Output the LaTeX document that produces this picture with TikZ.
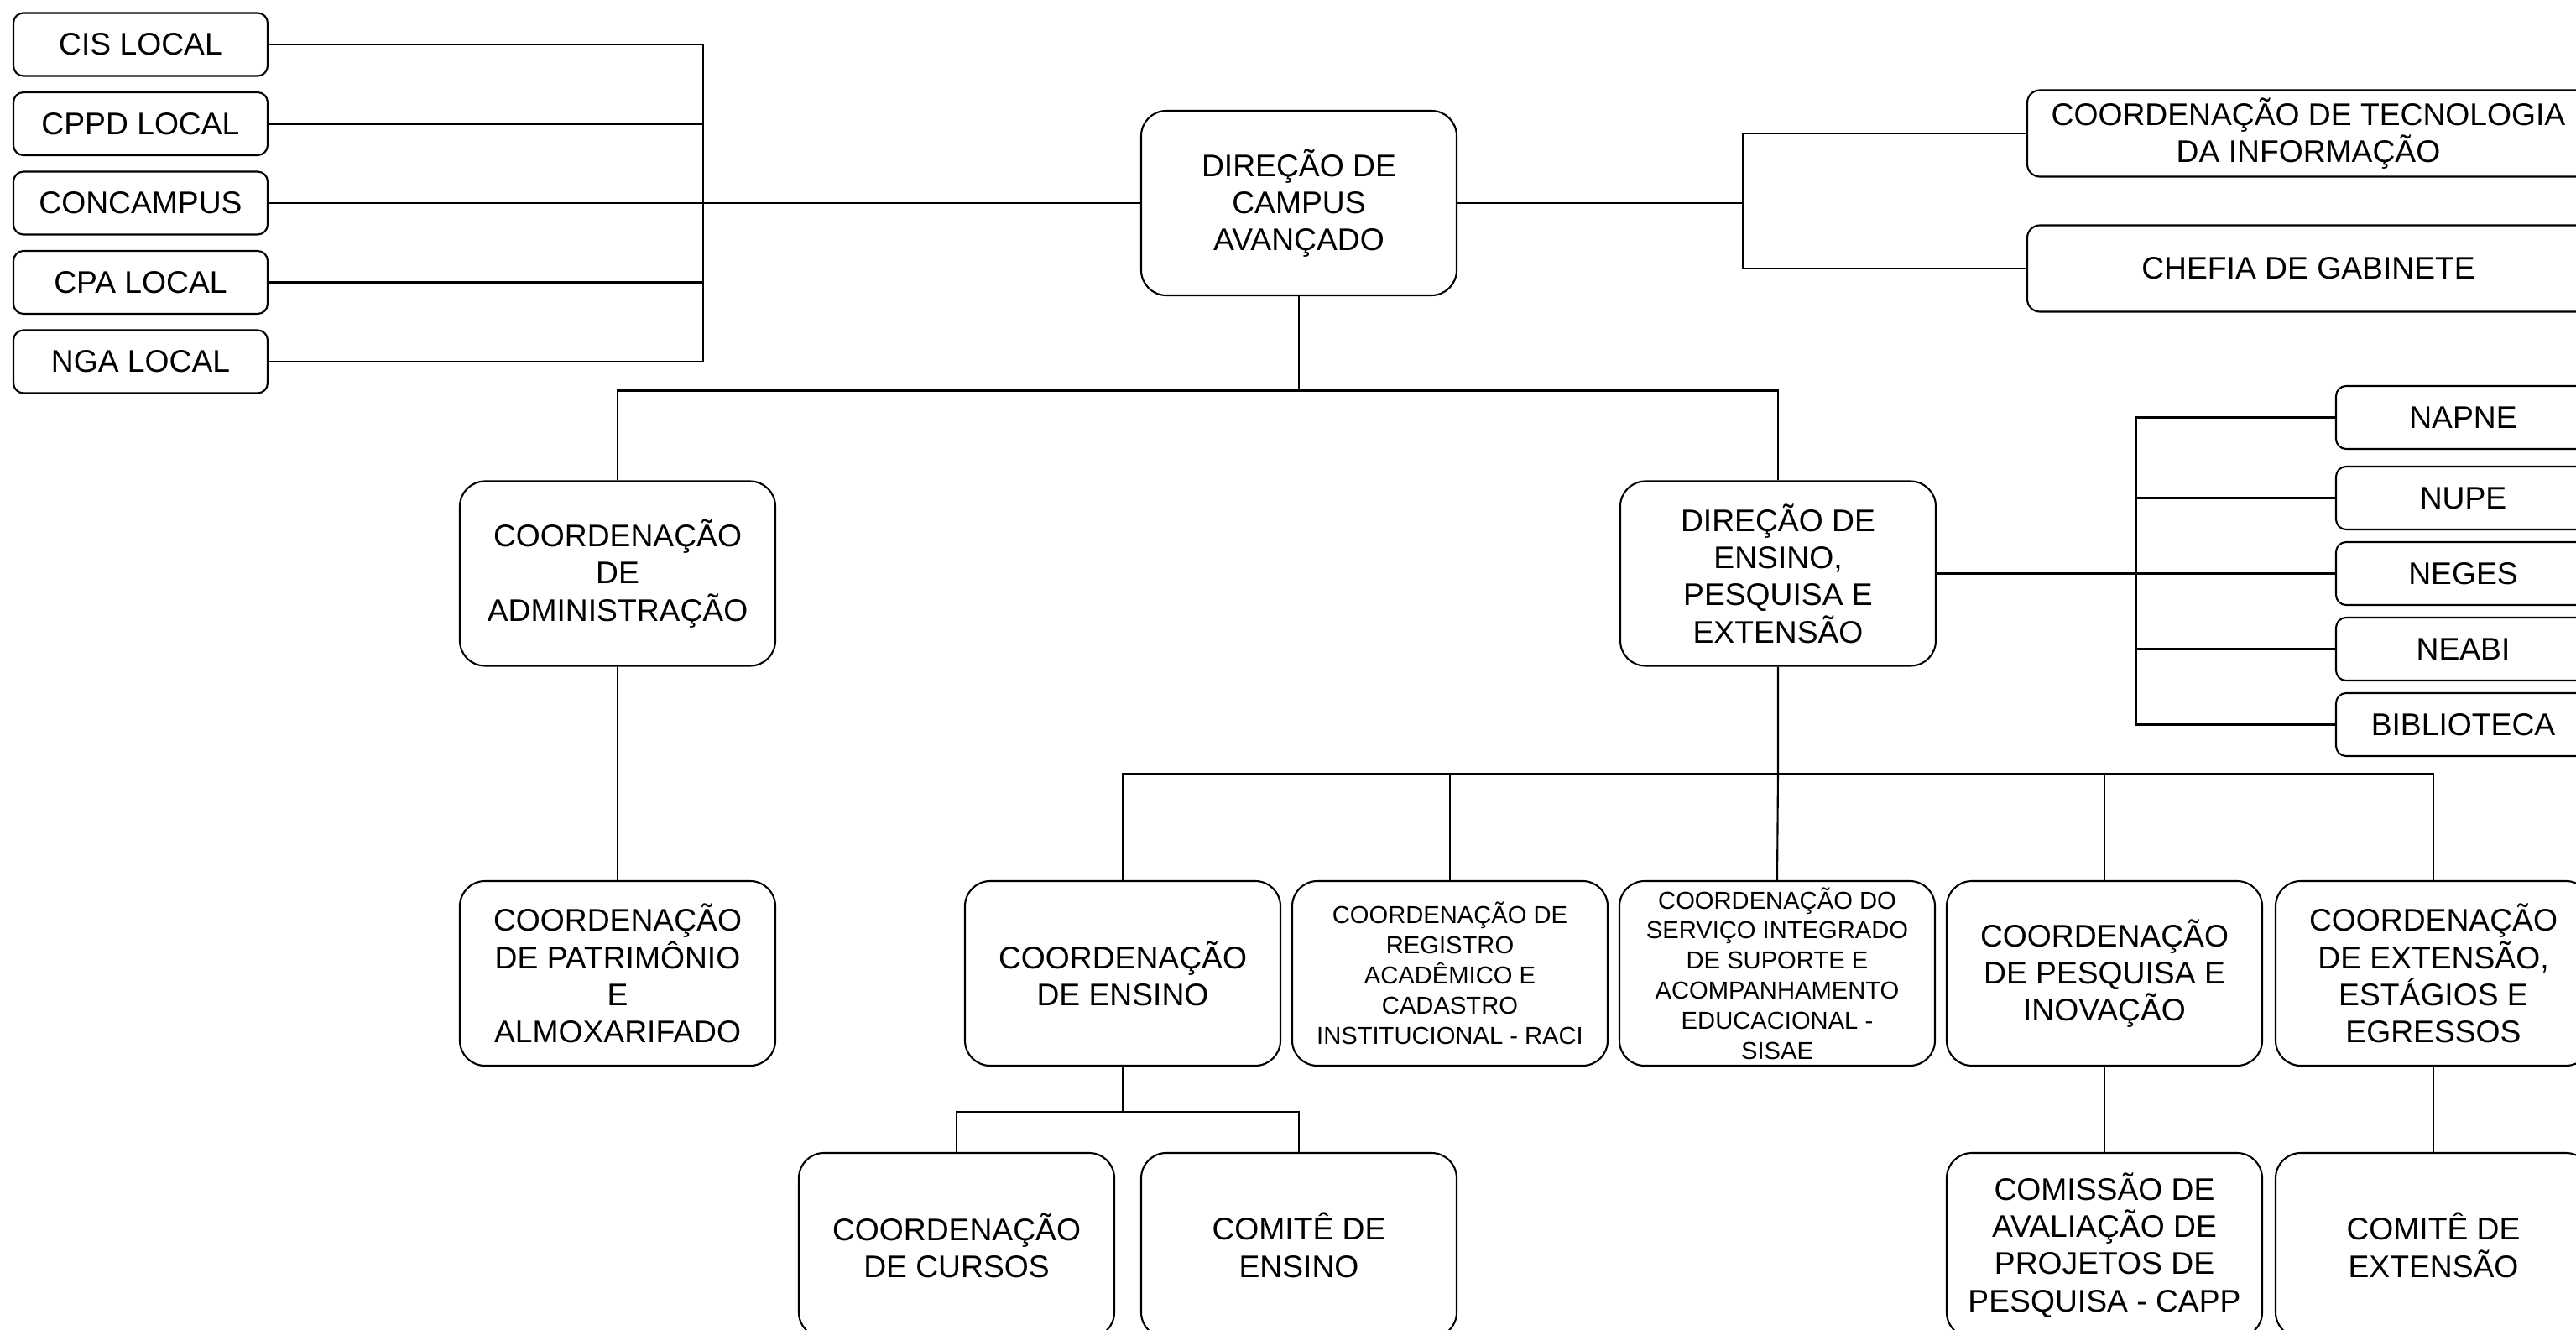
\documentclass[tikz,border=0pt]{standalone}
\usepackage{fontspec}
\setmainfont{Liberation Sans}
\usepackage{tikz}
\usetikzlibrary{positioning}
\tikzset{every node/.style={inner sep=0pt, align=center},
bigbox/.style={draw, line width=0.6pt, rounded corners=3mm, fill=white,
  minimum width=3.76cm, minimum height=2.2cm, font=\fontsize{10.6}{12.6}\selectfont},
smallbox/.style={draw, line width=0.6pt, rounded corners=1.2mm, fill=white,
  minimum width=3.03cm, minimum height=0.75cm, font=\fontsize{10.6}{12.6}\selectfont},
widebox/.style={draw, line width=0.6pt, rounded corners=1.5mm, fill=white,
  minimum width=6.7cm, minimum height=1.03cm, font=\fontsize{10.6}{12.6}\selectfont},
tinytext/.style={font=\fontsize{8.3}{10.2}\selectfont},
link/.style={draw, line width=0.6pt}
}

\begin{document}
\begin{tikzpicture}[node distance=1cm, on grid]
          \useasboundingbox (0,0) rectangle (30.7,-15.85);
          \clip (0,0) rectangle (30.7,-15.85);
          \fill[white] (0,0) rectangle (30.7,-15.85);

          % conselhos e comissoes locais
          \node[smallbox] (cis)       at (1.675,-0.53)       {CIS LOCAL};
          \node[smallbox] (cppd)      [below=0.945 of cis]   {CPPD LOCAL};
          \node[smallbox] (concampus) [below=0.945 of cppd]  {CONCAMPUS};
          \node[smallbox] (cpa)       [below=0.945 of concampus] {CPA LOCAL};
          \node[smallbox] (nga)       [below=0.945 of cpa]   {NGA LOCAL};

          \node[bigbox] (dirCampus) at (15.48,-2.42) {DIREÇÃO DE\\CAMPUS\\AVANÇADO};

          \node[widebox] (ti)     at (27.51,-1.59) {COORDENAÇÃO DE TECNOLOGIA\\DA INFORMAÇÃO};
          \node[widebox] (chefia) at (27.51,-3.20) {CHEFIA DE GABINETE};

          \node[bigbox] (coordAdm)  at (7.36,-6.835)  {COORDENAÇÃO\\DE\\ADMINISTRAÇÃO};
          \node[bigbox] (dirEnsino) at (21.19,-6.835) {DIREÇÃO DE\\ENSINO,\\PESQUISA E\\EXTENSÃO};

          % nucleos
          \node[smallbox] (neges)      at (29.355,-6.835)       {NEGES};
          \node[smallbox] (nupe)       [above=0.90 of neges]    {NUPE};
          \node[smallbox] (napne)      [above=0.96 of nupe]     {NAPNE};
          \node[smallbox] (neabi)      [below=0.90 of neges]    {NEABI};
          \node[smallbox] (biblioteca) [below=0.90 of neabi]    {BIBLIOTECA};

          \node[bigbox] (patrimonio) [below=4.765 of coordAdm] {COORDENAÇÃO\\DE PATRIMÔNIO\\E\\ALMOXARIFADO};
          \node[bigbox] (ensino)     at (13.38,-11.60)          {COORDENAÇÃO\\DE ENSINO};
          \node[bigbox,tinytext] (raci) [right=3.9 of ensino]
               {COORDENAÇÃO DE\\REGISTRO\\ACADÊMICO E\\CADASTRO\\INSTITUCIONAL - RACI};
          \node[bigbox,tinytext] (sisae) [right=3.9 of raci]
               {COORDENAÇÃO DO\\SERVIÇO INTEGRADO\\DE SUPORTE E\\ACOMPANHAMENTO\\EDUCACIONAL -\\SISAE};
          \node[bigbox] (pesquisa)   [right=3.9 of sisae]     {COORDENAÇÃO\\DE PESQUISA E\\INOVAÇÃO};
          \node[bigbox] (extensao)   [right=3.92 of pesquisa] {COORDENAÇÃO\\DE EXTENSÃO,\\ESTÁGIOS E\\EGRESSOS};

          \node[bigbox] (cursos)       at (11.40,-14.84)        {COORDENAÇÃO\\DE CURSOS};
          \node[bigbox] (comiteEnsino) [right=4.08 of cursos]   {COMITÊ DE\\ENSINO};
          \node[bigbox] (capp)         [below=3.24 of pesquisa] {COMISSÃO DE\\AVALIAÇÃO DE\\PROJETOS DE\\PESQUISA - CAPP};
          \node[bigbox] (comiteExt)    [below=3.24 of extensao] {COMITÊ DE\\EXTENSÃO};

          % ligacoes
          \path[link] (dirCampus.west) -- ++(-5.21,0) coordinate (lbus);
          \path[link] (cis.east) -| (lbus);
          \path[link] (nga.east) -| (lbus);
          \foreach \n in {cppd,concampus,cpa}
            \path[link] (\n.east) -- (\n.east -| lbus);

          \path[link] (dirCampus.east) -- ++(3.40,0) coordinate (rbus);
          \path[link] (ti.west) -| (rbus);
          \path[link] (chefia.west) -| (rbus);

          \path[link] (dirCampus.south) -- ++(0,-1.125) coordinate (dbus);
          \path[link] (coordAdm.north) |- (dbus);
          \path[link] (dirEnsino.north) |- (dbus);

          \path[link] (dirEnsino.east) -- ++(2.38,0) coordinate (ebus);
          \path[link] (napne.west) -| (ebus);
          \path[link] (biblioteca.west) -| (ebus);
          \foreach \n in {nupe,neges,neabi}
            \path[link] (\n.west) -- (\n.west -| ebus);

          \path[link] (coordAdm.south) -- (patrimonio.north);

          \path[link] (dirEnsino.south) -- ++(0,-1.27) coordinate (sbus) -- (sisae.north);
          \path[link] (ensino.north) |- (sbus);
          \path[link] (extensao.north) |- (sbus);
          \foreach \n in {raci,pesquisa}
            \path[link] (\n.north) -- (\n.north |- sbus);

          \path[link] (ensino.south) -- ++(0,-0.54) coordinate (cbus);
          \path[link] (cursos.north) |- (cbus);
          \path[link] (comiteEnsino.north) |- (cbus);

          \path[link] (pesquisa.south) -- (capp.north);
          \path[link] (extensao.south) -- (comiteExt.north);
        \end{tikzpicture}
\end{document}
